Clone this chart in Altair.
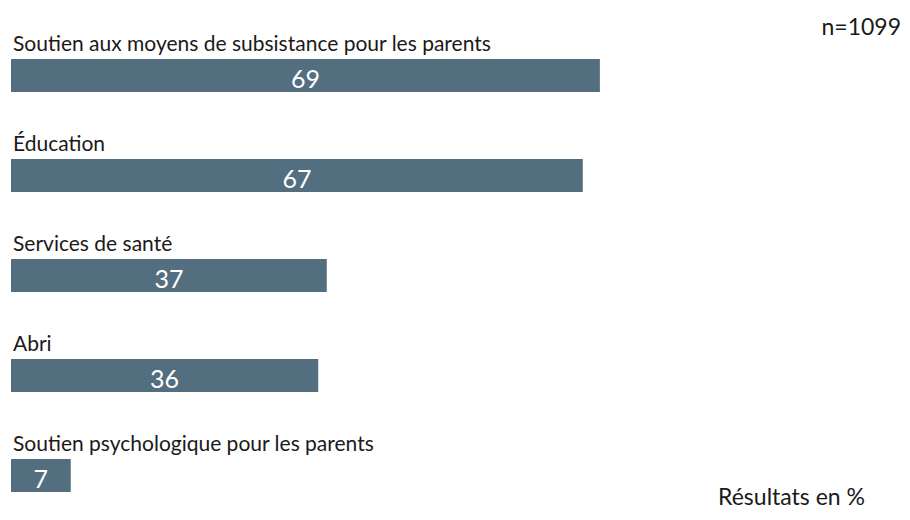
import altair as alt
import pandas as pd

categories = [
    "Soutien aux moyens de subsistance pour les parents",
    "Éducation",
    "Services de santé",
    "Abri",
    "Soutien psychologique pour les parents",
]
values = [69, 67, 37, 36, 7]
note_n = "n=1099"
note_unit = "Résultats en %"

df = pd.DataFrame({"cat": categories, "val": values})

FONT = "Lato"
COLOR = "#536e7e"

y_enc = alt.Y("cat:N", sort=categories, axis=None,
              scale=alt.Scale(domain=categories, range=[17.5, 517.5],
                              paddingInner=0, paddingOuter=0))
x_scale = alt.Scale(domain=[0, 104.4], nice=False, zero=True)

base = alt.Chart(df)

bars = base.mark_bar(color=COLOR, height=33).encode(
    x=alt.X("val:Q", scale=x_scale, axis=None),
    y=y_enc,
)

cat_labels = base.mark_text(
    align="left", baseline="alphabetic", dy=-25, dx=2,
    font=FONT, fontSize=21, color="#1a1a1a"
).encode(
    x=alt.value(0),
    y=y_enc,
    text="cat:N",
)

val_labels = base.transform_calculate(half="datum.val / 2").mark_text(
    align="center", baseline="alphabetic", dy=12,
    font=FONT, fontSize=25, color="white"
).encode(
    x=alt.X("half:Q", scale=x_scale, axis=None),
    y=y_enc,
    text="val:Q",
)

n_text = alt.Chart(pd.DataFrame({"t": [note_n]})).mark_text(
    align="right", baseline="alphabetic", font=FONT, fontSize=23, color="#1a1a1a"
).encode(x=alt.value(890), y=alt.value(27), text="t:N")

unit_text = alt.Chart(pd.DataFrame({"t": [note_unit]})).mark_text(
    align="right", baseline="alphabetic", font=FONT, fontSize=23, color="#1a1a1a"
).encode(x=alt.value(854), y=alt.value(497), text="t:N")

chart = alt.layer(bars, cat_labels, val_labels, n_text, unit_text).properties(
    width=891, height=504,
    autosize=alt.AutoSizeParams(type="none"),
    padding={"left": 3, "top": 0, "right": 0, "bottom": 0},
).configure_view(strokeWidth=0)

chart.save("out.html", embed_options={"renderer": "svg", "actions": False})
